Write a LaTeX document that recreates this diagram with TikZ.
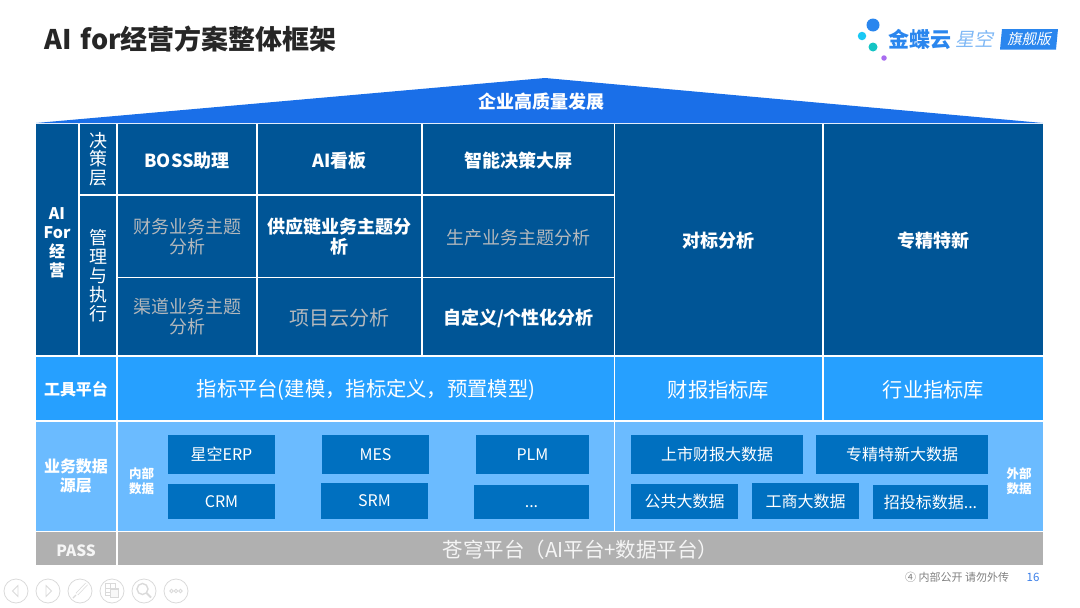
\documentclass[tikz,border=0pt]{standalone}
\usepackage{fontspec}
\setmainfont{Noto Sans CJK SC}
\newfontfamily\slantfont[FakeSlant=0.2]{Noto Sans CJK SC}
\definecolor{roofBlue}{HTML}{1A6FE8}
\definecolor{darkBlue}{HTML}{005596}
\definecolor{toolBlue}{HTML}{26A0FF}
\definecolor{dataBlue}{HTML}{6BBBFF}
\definecolor{boxBlue}{HTML}{0070C0}
\definecolor{passGrey}{HTML}{B0B0B0}
\definecolor{mutedText}{HTML}{B4B8BC}
\definecolor{navGrey}{HTML}{DADADA}
\definecolor{logoBlue}{HTML}{2A86EE}
\definecolor{logoCyan}{HTML}{19C8F5}
\definecolor{logoTeal}{HTML}{14C4C4}
\definecolor{logoViolet}{HTML}{A86CF0}
\definecolor{logoLight}{HTML}{7FB8F5}
\definecolor{pageBlue}{HTML}{3B7FE8}
\newcommand{\fs}[1]{\fontsize{#1}{#1}\selectfont}

\begin{document}
\begin{tikzpicture}[x = 1pt, y = -1pt]
	\tikzstyle{cellStyle} = [shape = rectangle, inner sep = 0pt, align = center, text = white]
	\tikzstyle{lowerStyle} = [cellStyle, execute at begin node = {\rule{0pt}{1.02em}}]
	\tikzstyle{darkStyle} = [lowerStyle, fill = darkBlue]
	\tikzstyle{toolStyle} = [lowerStyle, fill = toolBlue]
	\tikzstyle{dataStyle} = [lowerStyle, fill = dataBlue]
	\tikzstyle{passStyle} = [lowerStyle, fill = passGrey, text = white!96!black]
	\tikzstyle{boxStyle} = [cellStyle, fill = boxBlue, font = \fs{16}]
	\tikzstyle{navStyle} = [shape = circle, minimum size = 24pt, inner sep = 0pt, draw = navGrey, line width = 0.8pt]
	\tikzstyle{dotStyle} = [shape = circle, inner sep = 0pt]
	\tikzstyle{headStyle} = [font = \fs{16}\bfseries]
	\tikzstyle{smallHeadStyle} = [text = white, align = center, font = \fs{12.5}\bfseries]
	\tikzstyle{mutedStyle} = [text = mutedText, font = \fs{18}]
	\useasboundingbox (0, 0) rectangle (1080, 608);
	% title and logo
	\node[anchor = west, text = black!85, inner sep = 0pt, font = \fs{27}\bfseries] (title) at (44, 39) {AI\kern3pt{} for经营方案整体框架};
	\node[dotStyle, fill = logoBlue, minimum size = 13pt] (dotA) at (873, 25) {};
	\node[dotStyle, fill = logoCyan, minimum size = 8.5pt] (dotB) at (862, 36) {};
	\node[dotStyle, fill = logoTeal, minimum size = 9pt] (dotC) at (873, 47) {};
	\node[dotStyle, fill = logoViolet, minimum size = 5.5pt] (dotD) at (884, 58) {};
	\node[anchor = west, inner sep = 0pt, text = logoBlue, font = \fs{21}\bfseries] (logoName) at (888, 39) {金蝶云};
	\node[anchor = west, inner sep = 0pt, text = logoLight, font = \fs{19}\slantfont] (logoStar) at (955, 39) {星空};
	\fill[logoBlue] (1002, 29) -- (1058, 29) -- (1056, 49.5) -- (1000, 49.5) -- cycle;
	\node[text = white, inner sep = 0pt, font = \fs{14.5}\slantfont] (logoBadge) at (1029, 39.5) {旗舰版};
	% roof
	\fill[roofBlue] (36, 123) -- (545, 78) -- (1043, 123) -- cycle;
	\node[text = white, inner sep = 0pt, font = \fs{18}\bfseries] (roof) at (541, 102) {企业高质量发展};
	% top block
	\node[darkStyle, headStyle, minimum width = 42pt, minimum height = 231pt] (aiFor) at (57, 239.5) {\rule{0pt}{19.3pt}AI\\[3pt]For\\[3pt]经\\[3pt]营};
	\node[darkStyle, font = \fs{18}, minimum width = 36pt, minimum height = 70pt] (decide) at (98, 159) {决\\[0.5pt]策\\[0.5pt]层};
	\node[darkStyle, font = \fs{18}, minimum width = 36pt, minimum height = 159pt] (manage) at (98, 275.5) {管\\[1pt]理\\[1pt]与\\[1pt]执\\[1pt]行};
	\node[darkStyle, font = \fs{18}\bfseries, minimum width = 138pt, minimum height = 70pt] (boss) at (187, 159) {BOSS助理};
	\node[darkStyle, font = \fs{18}\bfseries, minimum width = 163pt, minimum height = 70pt] (board) at (339.5, 159) {AI看板};
	\node[darkStyle, font = \fs{18}\bfseries, minimum width = 191pt, minimum height = 70pt] (screen) at (518.5, 159) {智能决策大屏};
	\node[darkStyle, mutedStyle, minimum width = 138pt, minimum height = 81pt] (finance) at (187, 236.5) {财务业务主题\\[2pt]分析};
	\node[darkStyle, font = \fs{18}\bfseries, minimum width = 163pt, minimum height = 81pt] (supply) at (339.5, 236.5) {供应链业务主题分\\[2pt]析};
	\node[darkStyle, mutedStyle, minimum width = 191pt, minimum height = 81pt] (produce) at (518.5, 236.5) {生产业务主题分析};
	\node[darkStyle, mutedStyle, minimum width = 138pt, minimum height = 77pt] (channel) at (187, 316.5) {渠道业务主题\\[2pt]分析};
	\node[darkStyle, mutedStyle, font = \fs{20}, minimum width = 163pt, minimum height = 77pt] (project) at (339.5, 316.5) {项目云分析};
	\node[darkStyle, font = \fs{18}\bfseries, minimum width = 191pt, minimum height = 77pt] (custom) at (518.5, 316.5) {自定义/个性化分析};
	\node[darkStyle, font = \fs{18}\bfseries, minimum width = 207pt, minimum height = 231pt] (bench) at (718.5, 239.5) {对标分析};
	\node[darkStyle, font = \fs{18}\bfseries, minimum width = 219pt, minimum height = 231pt] (special) at (933.5, 239.5) {专精特新};
	% tool row
	\node[toolStyle, headStyle, minimum width = 80pt, minimum height = 63pt] (toolHead) at (76, 388.5) {工具平台};
	\node[toolStyle, font = \fs{20.3}, minimum width = 496pt, minimum height = 63pt] (toolMain) at (366, 388.5) {指标平台(建模，指标定义，预置模型)};
	\node[toolStyle, font = \fs{20.3}, minimum width = 207pt, minimum height = 63pt] (toolReport) at (718.5, 388.5) {财报指标库};
	\node[toolStyle, font = \fs{20.3}, minimum width = 219pt, minimum height = 63pt] (toolTrade) at (933.5, 388.5) {行业指标库};
	% data row
	\node[dataStyle, headStyle, minimum width = 80pt, minimum height = 109pt] (dataHead) at (76, 476) {业务数据\\[3pt]源层};
	\node[dataStyle, minimum width = 496pt, minimum height = 109pt] (dataIn) at (366, 476) {};
	\node[dataStyle, minimum width = 428pt, minimum height = 109pt] (dataOut) at (829, 476) {};
	\node[smallHeadStyle] (inLabel) at (141.5, 481) {内部\\[2pt]数据};
	\node[smallHeadStyle] (outLabel) at (1019, 481) {外部\\[2pt]数据};
	\node[boxStyle, minimum width = 107pt, minimum height = 39pt] (erp) at (221.5, 454.5) {星空ERP};
	\node[boxStyle, minimum width = 107pt, minimum height = 39pt] (mes) at (375.5, 454.5) {MES};
	\node[boxStyle, minimum width = 113pt, minimum height = 39pt] (plm) at (532.5, 454.5) {PLM};
	\node[boxStyle, minimum width = 107pt, minimum height = 35pt] (crm) at (221.5, 501.5) {CRM};
	\node[boxStyle, minimum width = 107pt, minimum height = 36pt] (srm) at (374.5, 501) {SRM};
	\node[boxStyle, minimum width = 115pt, minimum height = 34pt] (more) at (531.5, 502) {\vphantom{S}...};
	\node[boxStyle, minimum width = 172pt, minimum height = 39pt] (listed) at (717, 454.5) {上市财报大数据};
	\node[boxStyle, minimum width = 172pt, minimum height = 39pt] (bigSpecial) at (902, 454.5) {专精特新大数据};
	\node[boxStyle, minimum width = 107pt, minimum height = 35pt] (public) at (684.5, 501.5) {公共大数据};
	\node[boxStyle, minimum width = 107pt, minimum height = 36pt] (business) at (805.5, 501) {工商大数据};
	\node[boxStyle, minimum width = 115pt, minimum height = 34pt] (bid) at (930.5, 502) {招投标数据...};
	% pass row
	\node[passStyle, font = \fs{15.5}\bfseries, minimum width = 80pt, minimum height = 33pt] (passHead) at (76, 548.5) {PASS};
	\node[passStyle, font = \fs{20.5}, minimum width = 925pt, minimum height = 33pt] (passMain) at (580.5, 548.5) {苍穹平台（AI平台+数据平台）};
	% footer
	\node[anchor = west, inner sep = 0pt, text = black!50, font = \fs{11}] (notice) at (905, 577) {④ 内部公开 请勿外传};
	\node[inner sep = 0pt, text = pageBlue, font = \fs{11.5}] (pageNo) at (1033, 577) {16};
	% nav buttons
	\node[navStyle] (navPrev) at (16, 591) {};
	\node[navStyle] (navNext) at (48, 591) {};
	\node[navStyle] (navPen) at (80, 591) {};
	\node[navStyle] (navPages) at (112, 591) {};
	\node[navStyle] (navFind) at (144, 591) {};
	\node[navStyle] (navMore) at (176, 591) {};
	\draw[navGrey, line width = 0.8pt] (18, 585.5) -- (12.5, 591) -- (18, 596.5) -- cycle;
	\draw[navGrey, line width = 0.8pt] (46, 585.5) -- (51.5, 591) -- (46, 596.5) -- cycle;
	\draw[navGrey, line width = 0.7pt, double = white, double distance = 1.8pt] (86.5, 584) -- (77, 594);
	\draw[navGrey, line width = 1.4pt] (76, 595) -- (73, 598);
	\draw[navGrey, line width = 0.8pt] (105.5, 583.5) rectangle (115, 595) (105.5, 588) -- (115, 588) (105.5, 592) -- (115, 592) (110, 583.5) -- (110, 595);
	\filldraw[draw = navGrey, fill = white!80!navGrey, line width = 1.2pt] (110.5, 589) rectangle (118.5, 597.5);
	\draw[navGrey, line width = 1.4pt] (142.5, 589) circle (5.5);
	\draw[navGrey, line width = 2pt] (146.5, 593) -- (151, 597.5);
	\draw[navGrey, line width = 0.8pt] (171.5, 591) circle (1.7) (176, 591) circle (1.7) (180.5, 591) circle (1.7);
\end{tikzpicture}
\end{document}
